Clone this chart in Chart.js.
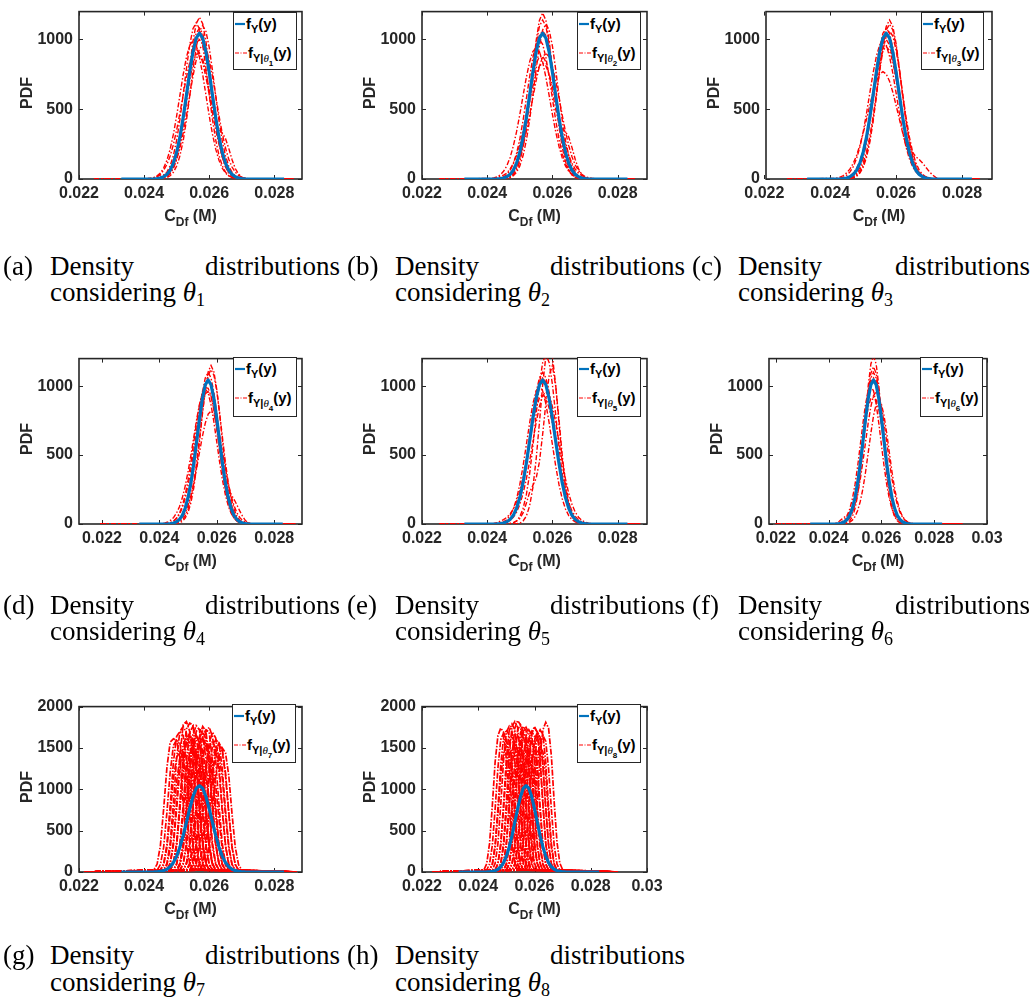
<!DOCTYPE html>
<html><head><meta charset="utf-8">
<script src="https://cdn.jsdelivr.net/npm/chart.js@4/dist/chart.umd.min.js"></script>
<style>
html,body{margin:0;padding:0;background:#fff}
body{width:1032px;height:1005px;position:relative;overflow:hidden;font-family:"Liberation Sans",Arial,sans-serif}
canvas{position:absolute}
.ylab{position:absolute;font-weight:bold;font-size:16px;color:#262626;transform:translate(-50%,-50%) rotate(-90deg);white-space:nowrap;line-height:16px}
.xlab{position:absolute;font-weight:bold;font-size:16px;color:#262626;transform:translateX(-50%);white-space:nowrap;line-height:16px}
.xlab sub{font-size:12px;vertical-align:-5px;line-height:0}
.leg{position:absolute;background:#fff;border:1.5px solid #262626;box-sizing:border-box}
.leg svg{position:absolute}
.lt{position:absolute;font-weight:bold;font-size:15px;line-height:15px;white-space:nowrap;color:#000}
.lt sub{font-size:11px;vertical-align:-4px;line-height:0}
.lt sub sub{font-size:8px;vertical-align:-4px}
.lt i{font-family:"Liberation Serif",serif;font-weight:normal}
.cap{position:absolute;font-family:"Liberation Serif",serif;font-size:27px;line-height:27px;color:#000;white-space:nowrap}
.cap sub{font-size:18px;vertical-align:-5px;line-height:0}
</style></head><body>
<script>
// ---------------- DATA ----------------
const panelIds = ['a','b','c','d','e','f','g','h'];
const thetaIdx = [1,2,3,4,5,6,7,8];
const xTicks4 = [0.022,0.024,0.026,0.028];
const xTickLabels4 = ['0.022','0.024','0.026','0.028'];
const xTicks5 = [0.022,0.024,0.026,0.028,0.030];
const xTickLabels5 = ['0.022','0.024','0.026','0.028','0.03'];
const yTicksSmall = [0,500,1000];
const yTickLabelsSmall = ['0','500','1000'];
const yTicksBig = [0,500,1000,1500,2000];
const yTickLabelsBig = ['0','500','1000','1500','2000'];

// f_Y(y)
const blueX = [0.0233,0.0243,0.0244,0.0245,0.0246,0.0247,0.0248,0.0249,0.025,0.0251,0.0252,0.0253,0.0254,0.0255,0.0256,0.0257,0.0258,0.0259,0.026,0.0261,0.0262,0.0263,0.0264,0.0265,0.0266,0.0267,0.0268,0.0269,0.027,0.0271,0.0283];
const blueY = [0,1,3,7,16,33,63,114,192,300,440,601,765,910,1010,1045,1010,910,765,601,440,300,192,114,63,33,16,7,3,1,0];

// x grid of the conditional densities f_{Y|theta_i}(y)
const redX = [0.0241,0.0242,0.0243,0.0244,0.0245,0.0246,0.0247,0.0248,0.0249,0.025,0.0251,0.0252,0.0253,0.0254,0.0255,0.0256,0.0257,0.0258,0.0259,0.026,0.0261,0.0262,0.0263,0.0264,0.0265,0.0266,0.0267,0.0268,0.0269,0.027,0.0271,0.0272,0.0273];
// zero-valued ends of the conditional curves, per panel
const redLo = [0.02246,0.02254,0.02269,0.02195,0.02254,0.0220,0.02216,0.02236];
const redHi = [0.02858,0.02851,0.02853,0.02874,0.02869,0.02907,0.02869,0.02897];

const redA = [
[0,0,1,3,7,17,34,65,118,198,310,455,620,790,940,1045,1080,1045,940,790,620,455,310,198,118,65,34,17,7,3,1,0,0],
[0,0,0,1,3,8,20,43,86,157,267,418,604,805,985,1113,1160,1113,985,805,604,418,267,157,86,43,20,8,3,1,0,0,0],
[2,5,10,19,35,62,104,165,247,352,473,603,729,835,905,930,905,835,729,603,473,352,247,165,104,62,35,19,10,5,2,1,0],
[2,5,11,23,43,78,134,214,321,453,601,748,873,959,990,959,873,748,601,453,321,214,134,78,43,23,11,5,2,1,0,0,0],
[0,0,0,1,3,8,18,38,75,140,240,380,545,705,830,895,900,860,770,640,510,410,355,330,290,220,140,75,35,14,5,1,0],
[0,0,0,0,1,4,10,23,48,93,166,274,419,593,778,943,1058,1100,1058,943,778,593,419,274,166,93,48,23,10,4,1,0,0],
[0,0,1,4,10,22,42,76,128,205,312,445,598,752,890,975,1000,965,875,735,570,405,265,160,90,46,22,10,4,1,0,0,0],
[0,0,1,4,11,24,49,95,169,279,427,604,792,960,1077,1120,1077,960,792,604,427,279,169,95,49,24,11,4,1,0,0,0,0],
[0,0,1,3,6,13,26,49,86,142,222,327,455,597,735,852,932,960,932,852,735,597,455,327,222,142,86,49,26,13,6,3,1],
[0,0,5,18,28,30,38,62,112,190,300,440,600,765,910,1010,1060,1020,915,765,598,435,295,186,108,58,29,13,5,2,0,0,0]
];
const redB = [
[0,0,0,0,1,4,12,29,63,125,228,378,571,788,991,1137,1190,1137,991,788,571,378,228,125,63,29,12,4,1,0,0,0,0],
[4,8,16,30,55,94,153,235,339,463,598,728,839,914,940,914,839,728,598,463,339,235,153,94,55,30,16,8,4,2,1,0,0],
[0,0,0,1,3,9,20,40,80,148,250,390,555,712,830,875,880,840,750,625,500,405,360,340,300,225,140,72,32,12,4,1,0],
[0,0,1,3,7,16,33,63,115,194,305,448,612,780,930,1030,1060,1030,930,780,612,448,305,194,115,63,33,16,7,3,1,0,0],
[0,0,0,0,1,4,10,23,48,94,168,277,423,599,786,952,1068,1110,1068,952,786,599,423,277,168,94,48,23,10,4,1,0,0],
[2,4,12,20,28,42,71,112,171,247,341,447,559,664,752,810,830,810,752,664,559,447,341,247,171,112,71,42,24,13,7,4,2],
[0,1,3,7,15,31,61,109,183,287,421,575,732,871,966,1000,966,871,732,575,421,287,183,109,61,31,15,7,3,1,0,0,0],
[0,0,0,1,3,8,19,42,84,154,262,411,593,790,968,1094,1140,1094,968,790,593,411,262,154,84,42,19,8,3,1,0,0,0],
[0,0,2,5,9,18,34,60,100,159,239,340,458,584,706,807,876,900,876,807,706,584,458,340,239,159,100,60,34,18,9,5,2]
];
const redC = [
[0,0,0,0,1,3,8,19,42,84,154,262,411,593,790,968,1094,1140,1094,968,790,593,411,262,154,84,42,19,8,3,1,0,0],
[4,7,14,25,44,72,113,169,242,329,427,527,622,701,752,770,752,701,622,527,427,329,242,169,113,72,44,25,14,7,4,2,1],
[0,0,0,1,3,8,20,42,82,150,255,400,570,740,890,980,1000,960,860,720,560,420,310,235,190,160,140,115,85,55,30,12,3],
[0,0,1,3,7,17,34,65,118,198,310,455,620,790,940,1045,1080,1045,940,790,620,455,310,198,118,65,34,17,7,3,1,0,0],
[0,0,0,0,1,4,10,23,48,94,168,277,423,599,786,952,1068,1110,1068,952,786,599,423,277,168,94,48,23,10,4,1,0,0],
[0,0,2,5,10,22,42,75,128,205,309,435,577,717,838,921,950,921,838,717,577,435,309,205,128,75,42,22,10,5,2,0,0],
[0,0,0,1,3,7,16,33,64,116,194,304,446,610,776,923,1024,1060,1024,923,776,610,446,304,194,116,64,33,16,7,3,1,0],
[1,3,7,14,27,51,89,147,229,337,469,615,758,879,961,990,961,879,758,615,469,337,229,147,89,51,27,14,7,3,1,0,0]
];
const redD = [
[0,0,0,0,1,3,8,19,42,85,155,264,415,598,797,976,1104,1150,1104,976,797,598,415,264,155,85,42,19,8,3,1,0,0],
[1,2,5,11,21,40,70,117,186,279,397,534,681,823,942,1022,1050,1010,900,742,566,400,261,159,89,46,22,10,4,1,0,0,0],
[0,0,1,3,7,14,26,48,82,134,205,296,404,522,636,732,797,820,797,732,636,522,404,296,205,134,82,48,26,14,7,3,1],
[0,0,0,1,4,10,22,45,88,158,262,400,560,720,860,945,960,925,835,700,555,420,320,255,215,180,140,95,55,25,8,2,0],
[0,0,1,3,7,17,35,66,120,202,315,462,631,803,955,1060,1100,1060,955,803,631,462,315,202,120,66,35,17,7,3,1,0,0],
[1,2,5,11,22,43,78,132,212,318,449,595,740,865,950,980,950,865,740,595,449,318,212,132,78,43,22,11,5,2,1,0,0],
[0,0,0,1,2,6,14,29,58,109,187,301,449,625,806,968,1080,1120,1080,968,806,625,449,301,187,109,58,29,14,6,2,1,0],
[3,8,15,28,48,80,125,190,275,380,500,630,760,870,950,990,985,930,830,690,530,380,250,150,85,45,22,10,4,1,0,0,0]
];
const redE = [
[0,0,0,0,0,0,0,0,2,6,22,57,131,264,469,732,1007,1219,1300,1219,1007,732,469,264,131,57,22,6,2,0,0,0,0],
[0,0,0,0,0,1,3,8,23,54,113,213,363,563,793,1012,1171,1230,1171,1012,793,563,363,213,113,54,23,8,3,1,0,0,0],
[0,0,1,3,7,16,33,63,115,194,305,448,612,780,930,1030,1060,1030,930,780,612,448,305,194,115,63,33,16,7,3,1,0,0],
[1,4,10,20,32,48,72,108,160,240,339,463,598,728,839,914,940,914,839,728,598,463,339,235,153,94,55,30,16,8,4,2,1],
[0,0,1,3,7,17,35,66,120,202,315,462,631,803,955,1060,1100,1060,955,803,631,462,315,202,120,66,35,17,7,3,1,0,0],
[0,1,3,7,15,31,61,109,183,287,421,575,732,871,966,1000,966,871,732,575,421,287,183,109,61,31,15,7,3,1,0,0,0],
[0,0,1,3,6,13,26,49,86,142,222,327,455,597,735,852,932,960,932,852,735,597,455,327,222,142,86,49,26,13,6,3,1],
[0,0,0,0,0,2,5,10,20,40,80,150,230,280,330,450,650,880,1080,1150,1000,760,500,300,160,75,30,10,3,1,0,0,0]
];
const redF = [
[0,0,0,0,1,3,9,23,54,112,211,360,559,787,1004,1161,1220,1161,1004,787,559,360,211,112,54,23,9,3,1,0,0,0,0],
[0,0,1,3,7,17,35,66,120,202,315,462,631,803,955,1060,1100,1060,955,803,631,462,315,202,120,66,35,17,7,3,1,0,0],
[0,0,1,3,7,16,33,63,115,194,305,448,612,780,930,1030,1060,1030,930,780,612,448,305,194,115,63,33,16,7,3,1,0,0],
[0,2,8,20,35,50,62,85,125,200,305,440,590,735,850,910,920,900,830,720,580,435,300,195,115,62,30,13,5,2,0,0,0],
[0,1,3,7,15,31,61,109,183,287,421,575,732,871,966,1000,966,871,732,575,421,287,183,109,61,31,15,7,3,1,0,0,0],
[0,0,1,3,6,13,26,49,86,142,222,327,455,597,735,852,932,960,932,852,735,597,455,327,222,142,86,49,26,13,6,3,1],
[0,0,0,1,3,8,19,42,84,154,262,411,593,790,968,1094,1140,1094,968,790,593,411,262,154,84,42,19,8,3,1,0,0,0],
[0,0,0,0,1,3,6,14,28,54,98,165,258,379,518,659,784,869,900,869,784,659,518,379,258,165,98,54,28,14,6,3,1]
];
// panels g and h: each curve starts at the listed x (on redX) and runs on the grid
const redGStart = [0.0243,0.0244,0.0245,0.0246,0.0247,0.0247,0.0248,0.0248,0.0249,0.0249,0.025,0.025,0.0251,0.0251,0.0252,0.0252,0.0253,0.0253,0.0254,0.0255,0.0256,0.0256,0.0257,0.0258,0.0245,0.0254,
                   0.0246,0.025,0.0252,0.0253,0.0255,0.0248,0.025,0.0257];
const redG = [
[24,96,320,760,1260,1570,1610,1590,1380,820,340,100,25],
[22,90,300,720,1200,1530,1600,1560,1300,790,330,98,24],
[25,100,335,800,1330,1640,1700,1650,1350,800,340,100,26],
[26,105,350,830,1380,1700,1760,1680,1380,830,350,105,26],
[27,108,360,850,1410,1780,1820,1700,1400,846,360,108,27],
[24,96,320,760,1250,1540,1640,1560,1240,750,320,96,24],
[27,108,360,846,1404,1730,1800,1780,1404,846,360,108,27],
[25,99,330,780,1290,1600,1680,1550,1280,770,330,99,25],
[26,104,345,810,1340,1690,1760,1640,1330,800,340,102,26],
[23,90,300,710,1180,1450,1520,1460,1170,700,300,90,23],
[26,105,350,830,1370,1660,1770,1720,1365,823,350,105,26],
[24,96,320,750,1250,1580,1650,1560,1240,750,320,96,24],
[26,104,350,820,1360,1700,1740,1660,1360,820,350,104,26],
[23,92,305,725,1200,1480,1560,1470,1200,720,300,90,23],
[26,105,350,823,1365,1640,1760,1700,1365,823,350,105,26],
[24,98,325,770,1280,1560,1620,1540,1260,760,320,96,24],
[26,102,340,800,1326,1650,1720,1690,1330,800,340,102,26],
[23,90,300,705,1170,1430,1520,1440,1160,700,300,90,23],
[26,104,345,810,1340,1700,1750,1640,1340,810,345,104,26],
[25,100,330,780,1290,1560,1690,1620,1300,780,330,100,25],
[24,96,320,750,1240,1520,1600,1560,1250,750,320,96,24],
[22,88,290,690,1140,1400,1480,1420,1140,690,290,88,22],
[23,92,305,725,1200,1470,1560,1490,1200,725,305,92,23],
[22,90,300,705,1170,1420,1500,1440,1170,705,300,90,22],
[22,85,290,680,1130,1390,1450,1400,1120,680,290,85,22],
[20,80,270,640,1060,1300,1380,1320,1050,640,270,80,20],
[21,84,280,660,1100,1380,1450,1390,1100,660,280,84,21],
[24,95,318,750,1245,1560,1660,1570,1245,750,318,95,24],
[25,100,330,780,1290,1620,1700,1610,1290,780,330,100,25],
[22,88,295,695,1150,1430,1520,1450,1150,695,295,88,22],
[23,93,310,735,1215,1510,1580,1500,1215,735,310,93,23],
[24,96,320,760,1260,1570,1650,1580,1260,760,320,96,24],
[20,82,275,650,1080,1340,1420,1350,1080,650,275,82,20],
[22,90,300,705,1170,1450,1540,1460,1170,705,300,90,22]
];
const redHStart = [0.0242,0.0243,0.0244,0.0245,0.0246,0.0247,0.0247,0.0248,0.0248,0.0249,0.0249,0.025,0.025,0.0251,0.0251,0.0252,0.0253,0.0254,0.0255,0.0256,0.0257,0.0258,
                   0.0244,0.0246,0.025,0.0252,0.0253,0.0255,0.0256,0.0254];
const redH = [
[25,100,340,800,1330,1650,1740,1690,1360,800,340,100,25],
[24,95,320,760,1260,1600,1680,1620,1280,760,320,95,24],
[25,98,330,780,1300,1620,1720,1650,1300,780,330,98,25],
[26,104,345,815,1350,1690,1760,1700,1350,815,345,104,26],
[26,105,350,825,1370,1710,1790,1720,1370,825,350,105,26],
[27,108,360,846,1404,1760,1820,1750,1404,846,360,108,27],
[23,92,305,720,1190,1480,1560,1490,1190,720,305,92,23],
[27,108,360,846,1404,1740,1830,1780,1404,846,360,108,27],
[24,96,320,760,1250,1570,1650,1580,1250,760,320,96,24],
[26,104,350,820,1360,1720,1780,1700,1360,820,350,104,26],
[22,88,295,700,1150,1420,1500,1440,1150,700,295,88,22],
[26,105,350,823,1365,1680,1760,1710,1365,823,350,105,26],
[24,95,315,745,1240,1540,1620,1560,1240,745,315,95,24],
[26,104,345,815,1350,1690,1750,1680,1350,815,345,104,26],
[23,90,300,710,1180,1460,1540,1470,1180,710,300,90,23],
[26,102,340,800,1326,1650,1720,1660,1326,800,340,102,26],
[25,100,335,790,1310,1620,1700,1640,1310,790,335,100,25],
[26,104,345,815,1350,1680,1740,1690,1350,815,345,104,26],
[25,98,330,780,1290,1600,1690,1630,1290,780,330,98,25],
[26,102,340,800,1326,1650,1720,1660,1326,800,340,102,26],
[24,96,320,760,1250,1560,1650,1580,1250,760,320,96,24],
[27,108,360,846,1404,1720,1810,1740,1404,846,360,108,27],
[22,88,295,700,1160,1440,1520,1450,1160,700,295,88,22],
[24,96,320,755,1250,1560,1640,1570,1250,755,320,96,24],
[25,100,330,780,1290,1610,1700,1620,1290,780,330,100,25],
[21,85,285,675,1120,1390,1470,1400,1120,675,285,85,21],
[23,92,305,725,1200,1490,1570,1500,1200,725,305,92,23],
[24,98,325,770,1275,1590,1670,1600,1275,770,325,98,24],
[22,88,295,700,1160,1440,1520,1450,1160,700,295,88,22],
[26,104,345,815,1350,1680,1760,1690,1350,815,345,104,26]
];
const redAll = [redA,redB,redC,redD,redE,redF,redG,redH];
const redStarts = [null,null,null,null,null,null,redGStart,redHStart];

// ---------------- LAYOUT ----------------
const layout = [
 {box:[79,6,302,179],   xr:[0.022,0.02885], xt:4, big:false, leg:[233,12,64,58], cap:[3,50,340,276,302]},
 {box:[422,6,647,179],  xr:[0.022,0.0289],  xt:4, big:false, leg:[577,12,64,58], cap:[347,395,685,276,302]},
 {box:[766,6,992,179],  xr:[0.02205,0.02891], xt:4, big:false, leg:[921,12,63,58], cap:[692,738,1030,276,302]},
 {box:[79,353,302,524], xr:[0.0212,0.02897], xt:4, big:false, leg:[233,357,64,60], cap:[3,50,340,615,641]},
 {box:[422,353,647,524],xr:[0.022,0.0289],  xt:4, big:false, leg:[577,357,64,60], cap:[347,395,685,615,641]},
 {box:[769,353,987,524],xr:[0.02174,0.0300], xt:5, big:false, leg:[920,357,63,60], cap:[692,738,1030,615,641]},
 {box:[79,701,302,872], xr:[0.022,0.02885], xt:4, big:true, leg:[232,704,64,59], cap:[3,50,340,965,992]},
 {box:[422,701,647,872],xr:[0.022,0.0300],  xt:5, big:true, leg:[577,704,64,59], cap:[347,395,685,965,992]}
];

const AX = '#262626';
const tickFont = {family:'"Liberation Sans", Arial, sans-serif', size:16, weight:'bold'};

const boxPlugin = {
  id:'boxTicks',
  beforeDatasetsDraw(chart){
    const {ctx, chartArea:a, scales:{x,y}} = chart;
    ctx.save();
    ctx.strokeStyle = AX;
    ctx.lineWidth = 1.6;
    ctx.strokeRect(a.left, a.top, a.right-a.left, a.bottom-a.top);
    ctx.lineWidth = 1;
    ctx.beginPath();
    const t = 4;
    x.ticks.forEach(tk => {
      const px = Math.round(x.getPixelForValue(tk.value)) + 0.5;
      ctx.moveTo(px, a.bottom); ctx.lineTo(px, a.bottom - t);
      ctx.moveTo(px, a.top); ctx.lineTo(px, a.top + t);
    });
    y.ticks.forEach(tk => {
      const py = Math.round(y.getPixelForValue(tk.value)) + 0.5;
      ctx.moveTo(a.left, py); ctx.lineTo(a.left + t, py);
      ctx.moveTo(a.right, py); ctx.lineTo(a.right - t, py);
    });
    ctx.stroke();
    ctx.restore();
  }
};

function redData(vals, x0, lo, hi){
  const s = redX.findIndex(v => Math.abs(v - x0) < 1e-9);
  const pts = [{x:lo, y:0}];
  vals.forEach((yv,k) => pts.push({x:redX[s+k], y:yv}));
  pts.push({x:hi, y:0});
  return pts;
}

function addDiv(cls, style, html){
  const d = document.createElement('div');
  d.className = cls; d.setAttribute('style', style); d.innerHTML = html;
  document.body.appendChild(d);
  return d;
}

layout.forEach((L, p) => {
  const [bl, bt, br, bb] = L.box;
  const padL = 79, padT = 10, padR = 45, axH = 40;
  const W = br - bl + padL + padR, H = bb - bt + padT + axH;
  const cv = document.createElement('canvas');
  cv.width = W; cv.height = H;
  cv.style.left = (bl - padL) + 'px'; cv.style.top = (bt - padT) + 'px';
  cv.style.width = W + 'px'; cv.style.height = H + 'px';
  document.body.appendChild(cv);

  const xt = L.xt === 5 ? xTicks5 : xTicks4;
  const xl = L.xt === 5 ? xTickLabels5 : xTickLabels4;
  const yt = L.big ? yTicksBig : yTicksSmall;
  const yl = L.big ? yTickLabelsBig : yTickLabelsSmall;

  const datasets = [{
    label:'f_Y(y)',
    data: blueX.map((xv,i) => ({x:xv, y:blueY[i]})),
    borderColor:'#0072BD', borderWidth:3.2, pointRadius:0, order:0, borderJoinStyle:'round'
  }];
  redAll[p].forEach((vals, k) => {
    const x0 = redStarts[p] ? redStarts[p][k] : redX[0];
    datasets.push({
      label:'f_Y|theta' + thetaIdx[p] + '(y)',
      data: redData(vals, x0, redLo[p], redHi[p]),
      borderColor:'#FF0000', borderWidth: L.big ? 1.7 : 1.4,
      borderDash: L.big ? [6,1.5,1.5,1.5] : [5,2,1.5,2], pointRadius:0, order:1
    });
  });

  new Chart(cv, {
    type:'line',
    data:{datasets},
    options:{
      responsive:false, animation:false, events:[], devicePixelRatio:1,
      layout:{padding:{left:0, top:padT, right:padR, bottom:0}},
      plugins:{legend:{display:false}, tooltip:{enabled:false}},
      elements:{line:{tension:0}, point:{radius:0}},
      scales:{
        x:{type:'linear', min:L.xr[0], max:L.xr[1],
           grid:{display:false, drawTicks:false}, border:{display:false},
           afterBuildTicks: s => { s.ticks = xt.map(v => ({value:v})); },
           ticks:{autoSkip:false, maxRotation:0, minRotation:0, padding:5, color:AX, font:tickFont,
                  callback:(v,i) => xl[i]},
           afterFit: s => { s.height = axH; }},
        y:{type:'linear', min:0, max:L.big ? 2000 : 1200,
           grid:{display:false, drawTicks:false}, border:{display:false},
           afterBuildTicks: s => { s.ticks = yt.map(v => ({value:v})); },
           ticks:{autoSkip:false, padding:6, color:AX, font:tickFont,
                  callback:(v,i) => yl[i]},
           afterFit: s => { s.width = padL; }}
      }
    },
    plugins:[boxPlugin]
  });

  // axis titles
  addDiv('ylab', `left:${bl-52}px;top:${(bt+bb)/2}px`, 'PDF');
  addDiv('xlab', `left:${(bl+br)/2}px;top:${bb+29}px`, 'C<sub>Df</sub> (M)');

  // legend
  const [lx, ly, lw, lh] = L.leg;
  addDiv('leg', `left:${lx}px;top:${ly}px;width:${lw}px;height:${lh}px`,
    `<svg style="left:1px;top:8.5px" width="12" height="4"><line x1="0" y1="2" x2="10" y2="2" stroke="#0072BD" stroke-width="2.2"/></svg>` +
    `<div class="lt" style="left:12px;top:3px">f<sub>Y</sub>(y)</div>` +
    `<svg style="left:1px;top:37.5px" width="14" height="4"><line x1="0" y1="2" x2="12" y2="2" stroke="#FF0000" stroke-width="1.2" stroke-dasharray="4 1.5 1 1.5"/></svg>` +
    `<div class="lt" style="left:14px;top:32px">f<sub>Y|<i>θ</i><sub>${thetaIdx[p]}</sub></sub>(y)</div>`);

  // caption
  const [cx0, cxi, cxr, b1, b2] = L.cap;
  const off = 22.6;
  addDiv('cap', `left:${cx0}px;top:${b1-off}px`, `(${panelIds[p]})`);
  addDiv('cap', `left:${cxi}px;top:${b1-off}px`, 'Density');
  addDiv('cap', `right:${1032-cxr}px;top:${b1-off}px`, 'distributions');
  addDiv('cap', `left:${cxi}px;top:${b2-off}px`, `considering <i>θ</i><sub>${thetaIdx[p]}</sub>`);
});
</script>
</body></html>
